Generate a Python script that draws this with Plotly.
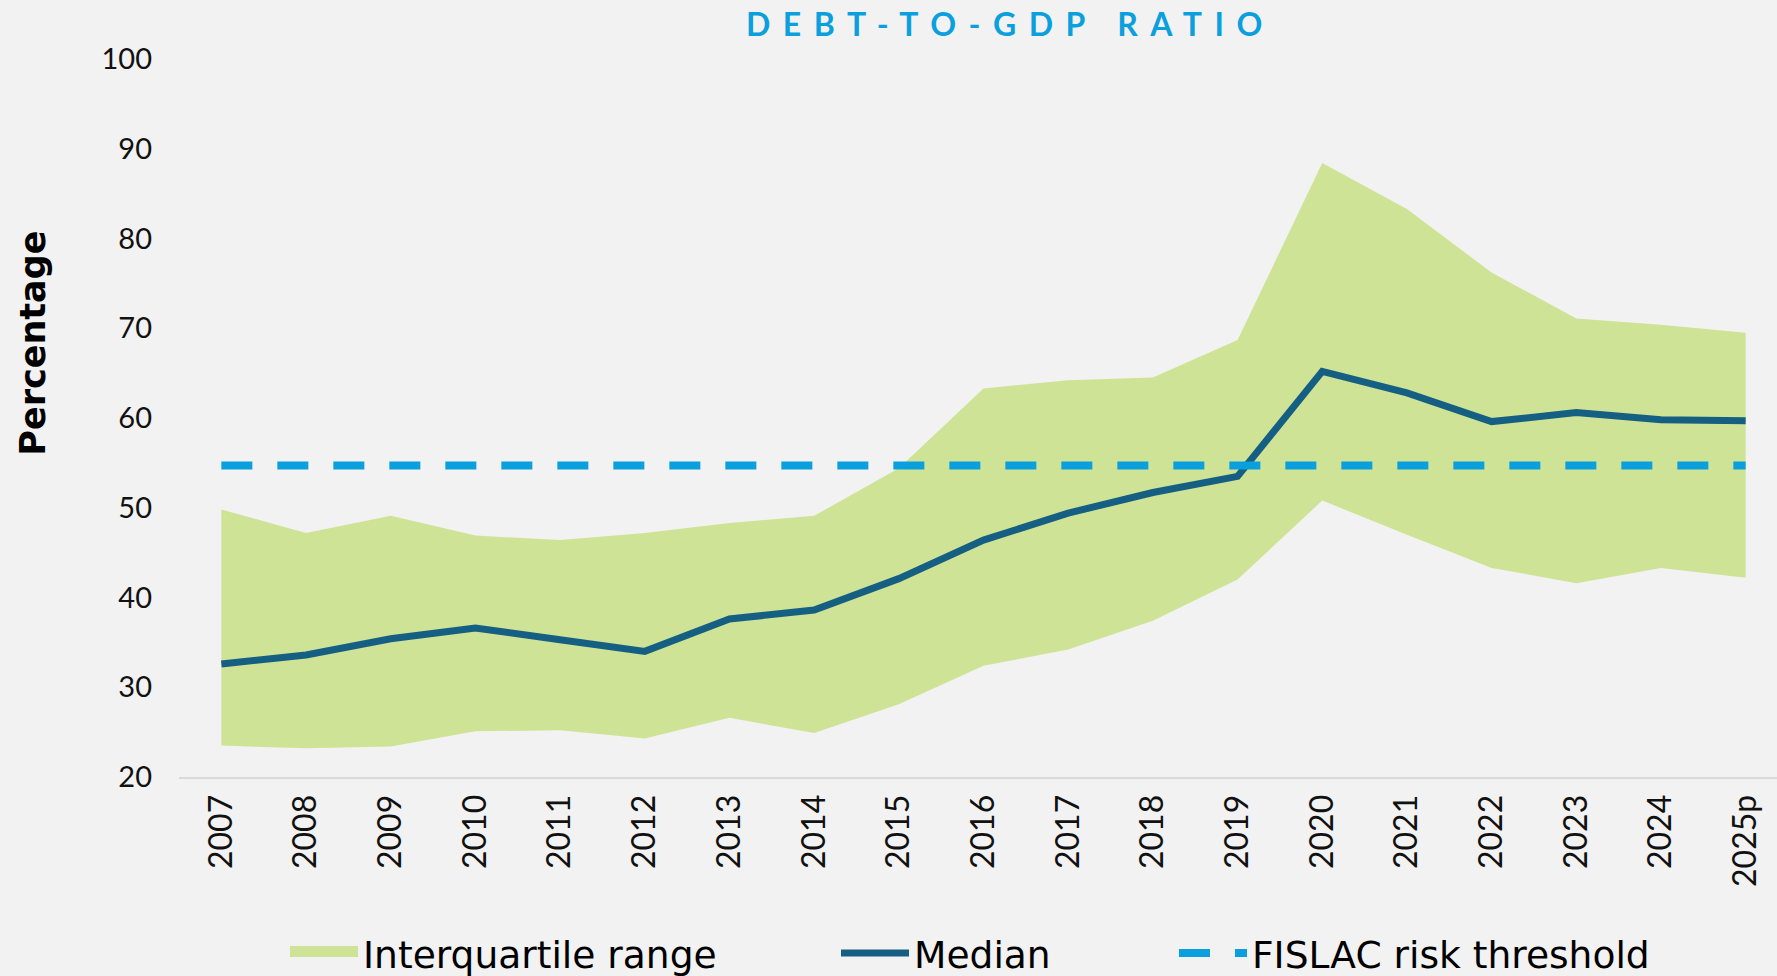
import plotly.graph_objects as go

# ---- data ----
years = ["2007", "2008", "2009", "2010", "2011", "2012", "2013", "2014", "2015", "2016",
         "2017", "2018", "2019", "2020", "2021", "2022", "2023", "2024", "2025p"]
iqr_upper = [49.8, 47.2, 49.1, 46.9, 46.4, 47.2, 48.3, 49.1, 54.4, 63.3,
             64.2, 64.5, 68.7, 88.4, 83.3, 76.2, 71.1, 70.4, 69.5]
iqr_lower = [23.5, 23.2, 23.4, 25.1, 25.2, 24.3, 26.6, 24.9, 28.1, 32.4,
             34.2, 37.4, 42.0, 50.8, 47.0, 43.3, 41.6, 43.3, 42.2]
median = [32.6, 33.6, 35.4, 36.6, 35.3, 34.0, 37.6, 38.6, 42.1, 46.4,
          49.4, 51.7, 53.5, 65.2, 62.8, 59.6, 60.6, 59.8, 59.7]
threshold_value = 54.7
threshold = [threshold_value] * len(years)

y_ticks = [20, 30, 40, 50, 60, 70, 80, 90, 100]

title_text = "DEBT-TO-GDP RATIO"
y_title = "Percentage"
names = ["Interquartile range", "Median", "FISLAC risk threshold"]

# ---- styles ----
BG = "#f2f2f2"
GREEN = "#cfe397"
NAVY = "#155f82"
BLUE = "#0a9fdd"
W, H = 1777, 976

fig = go.Figure()

fig.add_trace(go.Scatter(x=years, y=iqr_lower, mode="lines", line=dict(width=0, color=GREEN),
                         showlegend=False, hoverinfo="skip"))
fig.add_trace(go.Scatter(x=years, y=iqr_upper, mode="lines", line=dict(width=0, color=GREEN),
                         fill="tonexty", fillcolor=GREEN, showlegend=False, hoverinfo="skip"))
# legend swatch for the band
fig.add_trace(go.Scatter(x=[None], y=[None], mode="lines", name=names[0],
                         line=dict(width=10, color=GREEN), fill="toself", fillcolor=GREEN,
                         legend="legend"))
fig.add_trace(go.Scatter(x=years, y=median, mode="lines", name=names[1],
                         line=dict(width=7, color=NAVY), legend="legend2"))
fig.add_trace(go.Scatter(x=years, y=threshold, mode="lines", name=names[2],
                         line=dict(width=8, color=BLUE, dash="31px,25px"), legend="legend3"))

legend_font = dict(family="DejaVu Sans", size=37.6, color="#000000")
leg_common = dict(orientation="h", xref="container", yref="container", xanchor="left",
                  yanchor="middle", y=(H - 953) / H, bgcolor="rgba(0,0,0,0)",
                  font=legend_font, itemwidth=68, borderwidth=0)

fig.update_layout(
    width=W, height=H,
    paper_bgcolor=BG, plot_bgcolor=BG,
    margin=dict(l=179, r=0, t=59, b=199, autoexpand=False),
    xaxis=dict(type="category", range=[-0.5, 18.37], showgrid=False, zeroline=False,
               showline=True, linecolor="#d9d9d9", linewidth=2, ticks="",
               tickangle=-90, ticklabelstandoff=3, automargin=False,
               tickfont=dict(family="Lato", size=32, color="#111111")),
    yaxis=dict(range=[20, 100], tickvals=y_ticks, showgrid=False, zeroline=False,
               showline=False, ticks="", ticklabelstandoff=26, automargin=False,
               tickfont=dict(family="Lato", size=29, color="#111111")),
    legend=dict(leg_common, x=(290 - 5) / W),
    legend2=dict(leg_common, x=(841 - 5) / W),
    legend3=dict(leg_common, x=(1179 - 5) / W),
    showlegend=True,
    hovermode=False,
    annotations=[
        dict(text='<span style="letter-spacing:12.5px">' + title_text + '</span>',
             xref="paper", yref="paper", x=(1010 - 179) / (W - 179), y=1 + (59 - 23) / (976 - 59 - 199),
             xanchor="center", yanchor="middle", showarrow=False,
             font=dict(family="Lato", size=32, color=BLUE, weight=700)),
        dict(text="<b>" + y_title + "</b>", xref="paper", yref="paper",
             x=(33.6 - 179) / (W - 179), y=(776.7 - 343) / (776.7 - 59), textangle=-90,
             xanchor="center", yanchor="middle", showarrow=False,
             font=dict(family="DejaVu Sans", size=35, color="#000000")),
    ],
)

fig.write_html("out.html", config={"displayModeBar": False},
               post_script="document.body.style.margin='0';document.body.style.background='%s';" % BG)
